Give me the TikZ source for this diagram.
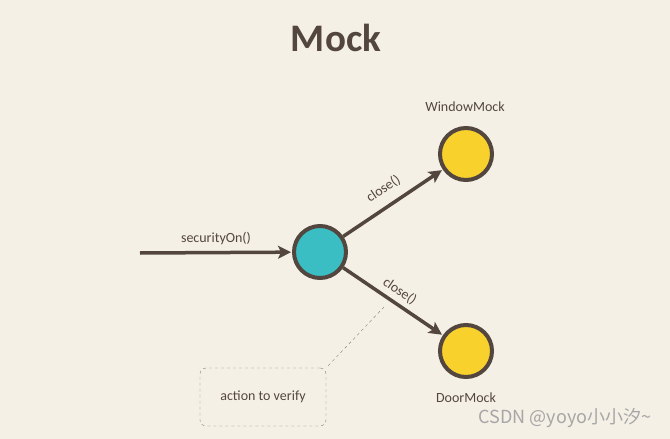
\documentclass[tikz,border=0pt]{standalone}
\usepackage{fontspec}
\setmainfont{Carlito}
\newfontfamily\cjkfont{Noto Sans CJK SC}
\usetikzlibrary{arrows.meta}

\definecolor{bgcol}{RGB}{245,240,230}
\definecolor{ink}{RGB}{82,70,62}
\definecolor{teal}{RGB}{58,190,196}
\definecolor{sun}{RGB}{249,209,45}

\tikzset{
    ball/.style={circle, draw=ink, line width=4pt, minimum size=52pt, inner sep=0pt},
    call/.style={draw=ink, line width=3.5pt, -{Stealth[length=13pt,width=13pt,inset=3pt]}, shorten >=1pt},
    lbl/.style={text=ink, font=\fontsize{14}{14}\selectfont},
}

\begin{document}
\begin{tikzpicture}[x=1pt,y=-1pt]

    \fill[bgcol] (0,0) rectangle (670,439);
    \useasboundingbox (0,0) rectangle (670,439);

    \node[text=ink, font=\fontsize{39}{39}\selectfont\bfseries] (title) at (336,38) {Mock};

    \node[ball, fill=teal] (hub) at (320,252) {};
    \node[ball, fill=sun] (win) at (466,154) {};
    \node[ball, fill=sun] (door) at (466,351) {};

    \node[lbl] (winlbl) at (465,107) {WindowMock};
    \node[lbl] (doorlbl) at (466,398) {DoorMock};

    % incoming call
    \coordinate (start) at (140,253);
    \draw[call] (start) -- (hub) node[lbl, midway, above=3pt] {securityOn()};

    % calls on the mocks
    \draw[call] (hub) -- (win) node[lbl, midway, sloped, above=6pt] {close()};
    \draw[call] (hub) -- (door) node[lbl, midway, sloped, above=1pt] (doorcall) {close()};

    % note
    \node[lbl, draw=ink!70, dashed, rounded corners=6pt, minimum width=126pt, minimum height=58pt] (note) at (263,397) {action to verify};
    \coordinate (tip) at (384,307);
    \draw[ink!70, dashed] (tip) -- (note.north east);

    \node[text=black!35, font=\cjkfont\fontsize{18}{18}\selectfont] (mark) at (565,418) {CSDN @yoyo小小汐\textasciitilde};

\end{tikzpicture}
\end{document}
